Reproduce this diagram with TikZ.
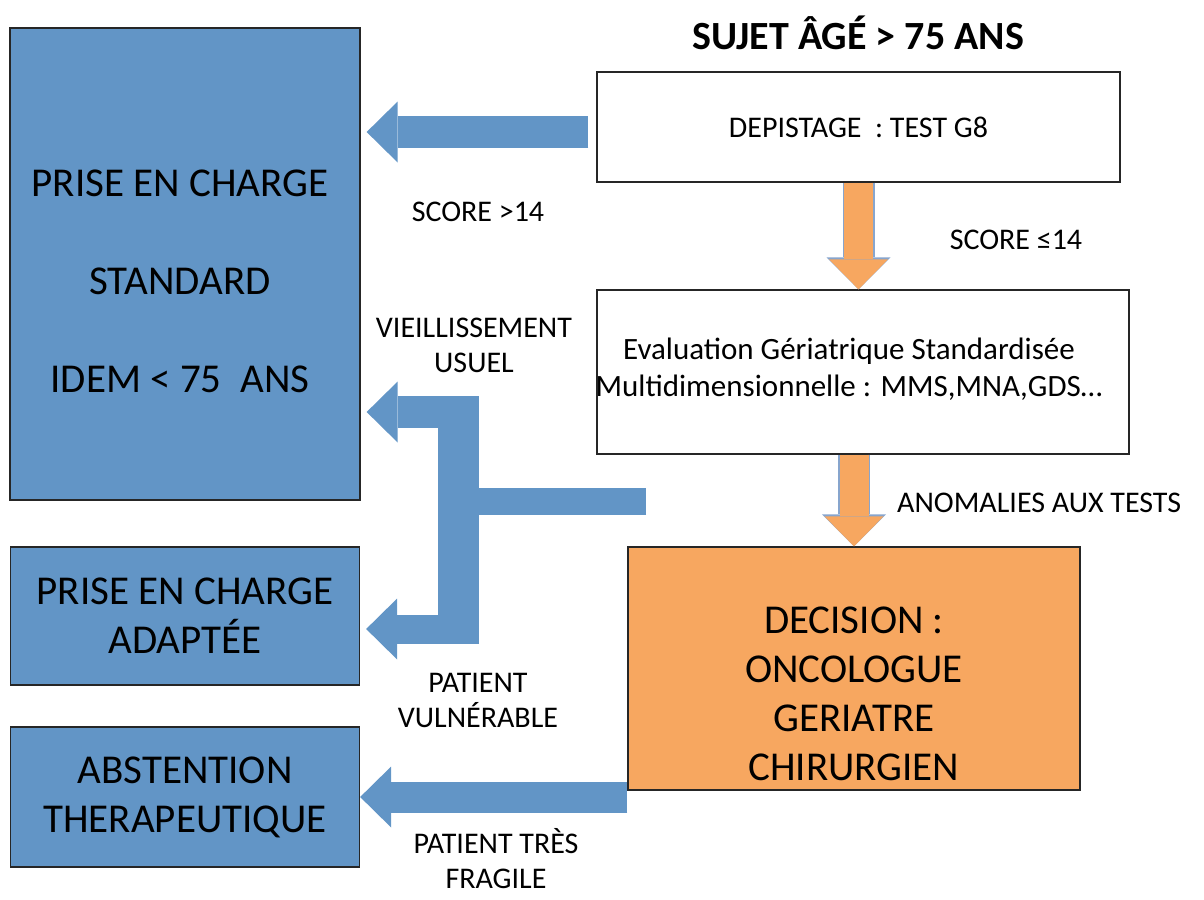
\documentclass[tikz,border=0pt]{standalone}
\usepackage{fontspec}
\setmainfont{Carlito}
\usetikzlibrary{arrows.meta}
\definecolor{boxblue}{RGB}{98,149,198}
\definecolor{boxorange}{RGB}{247,167,96}
\definecolor{edgeblue}{RGB}{135,165,205}

\begin{document}
\begin{tikzpicture}[x=1pt,y=-1pt,
	box/.style={draw=black!85, line width=1.3pt, inner sep=0pt},
	bluebox/.style={box, fill=boxblue},
	bigtxt/.style={font=\fontsize{41}{49}\selectfont, align=center},
	smalltxt/.style={font=\fontsize{30}{35}\selectfont, align=center, inner sep=1pt},
	bluebar/.style={draw=boxblue},
	bluearrow/.style={draw=boxblue, line width=32pt, -{Triangle[length=31pt,width=61pt,line width=0pt]}},
	orangeedge/.style={draw=edgeblue, line width=32pt, -{Triangle[length=32pt,width=64pt,line width=0pt]}},
	orangearrow/.style={draw=boxorange, line width=29pt, -{Triangle[length=30pt,width=59pt,line width=0pt]}}]
	\useasboundingbox (0,0) rectangle (1204,899);
	% boxes
	\node[font=\bfseries\fontsize{40}{48}\selectfont] (title) at (858,33) {SUJET ÂGÉ > 75 ANS};
	\node[box, smalltxt, minimum width=523pt, minimum height=110pt] (depist) at (858.5,127) {DEPISTAGE\ \ : TEST G8};
	\node[box, minimum width=532pt, minimum height=164pt] (eval) at (863,372) {};
	\node[smalltxt, font=\fontsize{31}{37}\selectfont] (evaltxt) at (849,369) {Evaluation Gériatrique Standardisée\\Multidimensionnelle : MMS,MNA,GDS…};
	\node[box, fill=boxorange, minimum width=452pt, minimum height=243pt] (decision) at (854,668.5) {};
	\node[bigtxt] (dectxt) at (854,694) {DECISION :\\ONCOLOGUE\\GERIATRE\\CHIRURGIEN};
	\node[bluebox, minimum width=350pt, minimum height=472pt] (std) at (185,264) {};
	\node[bigtxt, font=\fontsize{41}{98}\selectfont] (stdtxt) at (180,281) {PRISE EN CHARGE\\STANDARD\\IDEM < 75\ \ ANS};
	\node[bluebox, bigtxt, minimum width=349pt, minimum height=138pt] (adapt) at (185,616) {PRISE EN CHARGE\\ADAPTÉE};
	\node[bluebox, bigtxt, minimum width=349pt, minimum height=140pt] (absten) at (185,797) {ABSTENTION\\THERAPEUTIQUE};
	% connectors
	\coordinate (g8out) at ([xshift=-8pt,yshift=-5pt]depist.west);
	\draw[bluearrow, shorten >=6pt] (g8out) -- (g8out -| std.east);
	\draw[orangeedge] (depist.south) -- (depist.south |- eval.north);
	\draw[orangearrow] (depist.south) -- (depist.south |- eval.north);
	\draw[orangeedge] (decision.north |- eval.south) -- (decision.north);
	\draw[orangearrow] (decision.north |- eval.south) -- (decision.north);
	\coordinate (split) at (646,501);
	\coordinate (tjoin) at (458,501);
	\draw[bluebar, line width=27pt] (split) -- (tjoin);
	\draw[bluebar, line width=41pt] (458,396) -- (458,643);
	\draw[bluearrow, shorten >=6pt] (479,412) -- (std.east |- 479,412);
	\draw[bluearrow, line width=29pt, shorten >=6pt] (479,629) -- (adapt.east |- 479,629);
	\draw[bluearrow, line width=31pt] (decision.west |- absten.east) -- (absten.east);
	% labels
	\node[smalltxt] (lblhigh) at (478,212) {SCORE >14};
	\node[smalltxt] (lbllow) at (1016,240) {SCORE ≤14};
	\node[smalltxt] (lblusual) at (474,345) {VIEILLISSEMENT\\USUEL};
	\node[smalltxt, anchor=west] (lblanom) at (896,503) {ANOMALIES AUX TESTS};
	\node[smalltxt] (lblvuln) at (478,700) {PATIENT\\VULNÉRABLE};
	\node[smalltxt] (lblfrail) at (496,859) {PATIENT TRÈS\\FRAGILE};
\end{tikzpicture}
\end{document}
